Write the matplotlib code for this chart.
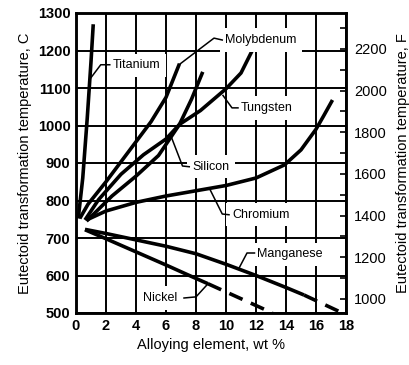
import matplotlib
matplotlib.use("Agg")
import matplotlib.pyplot as plt
from matplotlib.ticker import MultipleLocator

plt.rcParams["font.family"] = ["Liberation Sans", "DejaVu Sans"]

# ---- data (wt %, deg C) ----------------------------------------------------
ti_wt = [0.15, 0.45, 0.75, 1.0, 1.15]
ti_c = [752, 860, 1020, 1170, 1270]

mo_wt = [0.25, 0.8, 2.0, 3.5, 5.0, 6.0, 6.9]
mo_c = [752, 790, 850, 930, 1010, 1075, 1165]

si_wt = [0.6, 1.5, 3.0, 4.5, 6.0, 6.9, 7.7, 8.45]
si_c = [748, 802, 870, 922, 964, 1003, 1070, 1143]

w_wt = [0.7, 2.4, 4.0, 5.5, 6.9, 8.3, 10.0, 11.0, 11.75]
w_c = [745, 812, 865, 920, 1003, 1040, 1098, 1140, 1200]

cr_wt = [0.7, 2.0, 4.0, 6.0, 8.0, 10.0, 12.0, 13.9, 15.0, 16.0, 16.5, 17.1]
cr_c = [748, 772, 795, 812, 826, 840, 860, 895, 935, 990, 1025, 1068]

mn_wt = [0.6, 2.0, 4.0, 6.0, 8.0, 10.0, 12.0, 14.0, 15.2]
mn_c = [723, 712, 695, 678, 658, 630, 600, 568, 548]
mn_dash_wt = [15.2, 17.6]
mn_dash_c = [548, 503]

ni_wt = [0.6, 2.0, 4.0, 6.0, 7.5, 8.8]
ni_c = [722, 698, 663, 628, 601, 578]
ni_dash_wt = [8.8, 13.1]
ni_dash_c = [578, 500]

# labels: text, text position, leader path (wt, C)
labels = [
    ("Titanium", (2.45, 1160), [(2.25, 1162), (1.65, 1162), (0.95, 1125)]),
    ("Molybdenum", (9.95, 1228), [(9.75, 1228), (9.2, 1233), (6.9, 1163)]),
    ("Tungsten", (11.0, 1047), [(10.8, 1047), (10.4, 1047), (9.8, 1080)]),
    ("Silicon", (7.75, 890), [(7.55, 890), (7.1, 892), (6.3, 975)]),
    ("Chromium", (10.4, 762), [(10.2, 762), (9.75, 764), (8.9, 832)]),
    ("Manganese", (12.1, 657), [(11.9, 660), (11.4, 660), (10.9, 622)]),
    ("Nickel", (4.45, 540), [(7.2, 540), (8.0, 543), (8.8, 578)]),
]

fig = plt.figure(figsize=(4.1, 3.65), dpi=100)
ax = fig.add_axes([76 / 410, 1 - 313 / 365, 270 / 410, 300 / 365])

lw = 2.6
for x, y in [(ti_wt, ti_c), (mo_wt, mo_c), (si_wt, si_c), (w_wt, w_c),
             (cr_wt, cr_c), (mn_wt, mn_c), (ni_wt, ni_c)]:
    ax.plot(x, y, color="black", lw=lw, solid_capstyle="butt", zorder=3)
for x, y in [(mn_dash_wt, mn_dash_c), (ni_dash_wt, ni_dash_c)]:
    ax.plot(x, y, color="black", lw=lw, ls=(0, (4, 2.5)), zorder=3)

for name, (tx, ty), path in labels:
    ax.text(tx, ty, name, fontsize=9, ha="left", va="center", zorder=4,
            bbox=dict(boxstyle="square,pad=0.45", fc="white", ec="none"))
    px, py = zip(*path)
    ax.plot(px, py, color="black", lw=1.1, zorder=5)

ax.set_xlim(0, 18)
ax.set_ylim(500, 1300)
ax.xaxis.set_major_locator(MultipleLocator(2))
ax.yaxis.set_major_locator(MultipleLocator(100))
ax.grid(True, color="black", lw=1.4, zorder=0)
ax.set_axisbelow(True)
for s in ax.spines.values():
    s.set_linewidth(1.8)
ax.tick_params(length=0, pad=4, labelsize=10.5)
for t in ax.get_xticklabels() + ax.get_yticklabels():
    t.set_fontweight("bold")
ax.set_xlabel("Alloying element, wt %", fontsize=10.5, labelpad=4)
ax.set_ylabel("Eutectoid transformation temperature, C", fontsize=10.5,
              labelpad=4)

ax2 = ax.twinx()
ax2.set_ylim(500 * 1.8 + 32, 1300 * 1.8 + 32)
ax2.yaxis.set_major_locator(MultipleLocator(200))
ax2.yaxis.set_minor_locator(MultipleLocator(100))
ax2.tick_params(which="both", direction="in", length=4, width=1.2,
                labelsize=10.5, pad=6)
for s in ax2.spines.values():
    s.set_linewidth(1.8)
ax2.set_ylabel("Eutectoid transformation temperature, F", fontsize=10.5,
               labelpad=6)

fig.savefig("out.png", dpi=100)
